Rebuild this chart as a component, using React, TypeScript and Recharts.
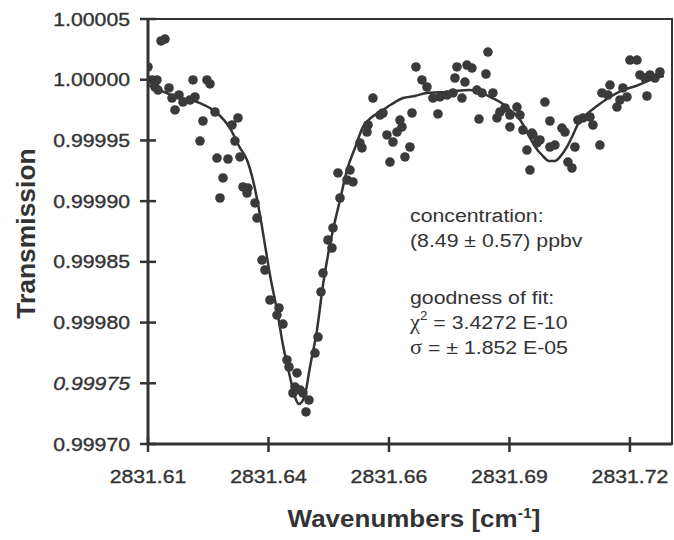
import {
  ComposedChart,
  Label,
  Line,
  ReferenceArea,
  Scatter,
  XAxis,
  YAxis,
} from 'recharts'

// measured transmission (points)
const wavenumber = [
  2831.61, 2831.61297, 2831.61388, 2831.61091, 2831.61205, 2831.6116, 2831.61228, 2831.61479,
  2831.61548, 2831.61707, 2831.61616, 2831.61799, 2831.61959, 2831.62073, 2831.62027, 2831.62346,
  2831.62415, 2831.62529, 2831.62255, 2831.62187, 2831.63054, 2831.62917, 2831.62985, 2831.62575,
  2831.62826, 2831.631, 2831.62712, 2831.62643, 2831.63168, 2831.63282, 2831.63259, 2831.63442,
  2831.63488, 2831.63602, 2831.6367, 2831.63784, 2831.6399, 2831.63944, 2831.64081, 2831.64172,
  2831.64218, 2831.644, 2831.64355, 2831.64469, 2831.64537, 2831.64309, 2831.64674, 2831.64606,
  2831.64811, 2831.6488, 2831.64948, 2831.64994, 2831.65108, 2831.65199, 2831.65222, 2831.65382,
  2831.65336, 2831.65542, 2831.6561, 2831.65678, 2831.65838, 2831.65884, 2831.65998, 2831.66021,
  2831.66135, 2831.66295, 2831.66363, 2831.66454, 2831.66591, 2831.66683, 2831.66751, 2831.66797,
  2831.66523, 2831.66865, 2831.66979, 2831.67025, 2831.67116, 2831.67253, 2831.67367, 2831.67504,
  2831.67664, 2831.67824, 2831.67961, 2831.67618, 2831.68006, 2831.68052, 2831.6828, 2831.68394,
  2831.68234, 2831.68166, 2831.68759, 2831.68714, 2831.68508, 2831.68622, 2831.68873, 2831.68554,
  2831.69033, 2831.69147, 2831.69261, 2831.69421, 2831.6949, 2831.68965, 2831.69261, 2831.69558,
  2831.69763, 2831.69649, 2831.69718, 2831.69878, 2831.69946, 2831.7006, 2831.70174, 2831.70448,
  2831.70517, 2831.70288, 2831.70174, 2831.70745, 2831.70585, 2831.70676, 2831.70813, 2831.70927,
  2831.71087, 2831.71156, 2831.71315, 2831.71361, 2831.71544, 2831.71498, 2831.7184, 2831.71932,
  2831.71772, 2831.71703, 2831.72, 2831.7216, 2831.72228, 2831.72342, 2831.72456, 2831.72571,
  2831.72685, 2831.72388, 2831.69786,
]
const transmission = [
  1.0000105, 1.0000319, 1.0000335, 0.9999998, 0.9999998, 0.999994, 0.9999915, 0.9999932,
  0.9999849, 0.9999874, 0.9999751, 0.9999816, 0.9999833, 0.9999858, 0.9999998, 0.9999998,
  0.9999965, 0.9999734, 0.999966, 0.9999495, 0.9999685, 0.9999627, 0.9999495, 0.9999355,
  0.9999347, 0.9999364, 0.9999191, 0.9999026, 0.9999117, 0.9999108, 0.9999067, 0.9998985,
  0.9998861, 0.9998515, 0.9998433, 0.9998186, 0.999812, 0.9998062, 0.9997988, 0.9997692,
  0.9997634, 0.9997585, 0.9997469, 0.9997445, 0.999742, 0.999742, 0.9997362, 0.9997264,
  0.9997749, 0.9997881, 0.9998252, 0.9998408, 0.999868, 0.9998614, 0.9998779, 0.9999026,
  0.9999232, 0.9999174, 0.9999256, 0.9999158, 0.9999479, 0.9999438, 0.9999569, 0.9999627,
  0.9999849, 0.9999709, 0.9999726, 0.9999545, 0.9999487, 0.9999569, 0.9999668, 0.9999611,
  0.9999322, 0.9999364, 0.9999446, 0.9999726, 1.0000105, 0.9999998, 0.999994, 0.9999849,
  0.9999858, 0.9999874, 0.9999891, 0.9999718, 1.0000014, 1.0000105, 1.0000121, 1.0000096,
  0.9999981, 0.9999849, 1.0000228, 1.0000047, 0.9999915, 0.9999891, 0.9999891, 0.9999676,
  0.9999734, 0.9999767, 0.9999709, 0.9999775, 0.9999709, 0.9999685, 0.9999611, 0.9999586,
  0.9999561, 0.9999421, 0.9999256, 0.9999479, 0.9999504, 0.9999816, 0.999966, 0.9999602,
  0.9999569, 0.9999462, 0.9999446, 0.9999446, 0.9999322, 0.9999273, 0.9999668, 0.9999685,
  0.9999693, 0.9999627, 0.9999462, 0.9999891, 0.9999956, 0.9999874, 0.9999932, 0.9999858,
  0.9999833, 0.9999775, 1.0000162, 1.0000162, 1.0000039, 1.0000014, 1.0000039, 1.0000014,
  1.0000064, 0.9999866, 0.9999545,
]

// fitted profile
const fitWavenumber = [
  2831.61, 2831.61274, 2831.61571, 2831.61844, 2831.62187, 2831.62575, 2831.62871, 2831.631,
  2831.63259, 2831.63396, 2831.63556, 2831.6367, 2831.63784, 2831.63944, 2831.64081, 2831.64241,
  2831.64355, 2831.64446, 2831.64537, 2831.64606, 2831.64697, 2831.64857, 2831.64994, 2831.65108,
  2831.65222, 2831.65382, 2831.65542, 2831.65724, 2831.65907, 2831.66112, 2831.66295, 2831.66568,
  2831.6682, 2831.67093, 2831.67367, 2831.67824, 2831.68349, 2831.68577, 2831.68805, 2831.69033,
  2831.69261, 2831.69421, 2831.69581, 2831.69718, 2831.69855, 2831.69992, 2831.70152, 2831.70288,
  2831.70403, 2831.70562, 2831.70699, 2831.70813, 2831.71019, 2831.71247, 2831.71544, 2831.7184,
  2831.72137, 2831.72456, 2831.72776,
]
const fitTransmission = [
  0.9999956, 0.9999915, 0.9999866, 0.9999841, 0.9999808, 0.9999726, 0.9999602, 0.9999438,
  0.9999339, 0.9999174, 0.9998886, 0.9998639, 0.9998392, 0.9998103, 0.9997815, 0.9997552,
  0.9997387, 0.9997329, 0.9997362, 0.9997445, 0.9997634, 0.9997939, 0.9998309, 0.9998557,
  0.9998762, 0.9999009, 0.9999256, 0.9999438, 0.9999611, 0.9999693, 0.9999734, 0.99998,
  0.9999849, 0.9999866, 0.9999891, 0.9999899, 0.9999915, 0.9999899, 0.9999858, 0.9999816,
  0.9999751, 0.9999701, 0.9999619, 0.999952, 0.9999438, 0.999938, 0.9999331, 0.9999331,
  0.9999364, 0.9999446, 0.9999545, 0.9999635, 0.9999718, 0.9999784, 0.9999858, 0.9999915,
  0.9999948, 0.9999998, 1.0000031,
]

const xTicks = [2831.61, 2831.6375, 2831.665, 2831.6925, 2831.72]
const xTickLabels = ['2831.61', '2831.64', '2831.66', '2831.69', '2831.72']
const yTicks = [0.9997, 0.99975, 0.9998, 0.99985, 0.9999, 0.99995, 1.0, 1.00005]

const concentration = '(8.49 ± 0.57) ppbv'
const chiSquared = '3.4272 E-10'
const sigma = '± 1.852 E-05'

const measured = wavenumber.map((x, i) => ({ x, y: transmission[i] }))
const fit = fitWavenumber.map((x, i) => ({ x, y: fitTransmission[i] }))

const INK = '#333333'
const FONT = '"Liberation Sans", Arial, sans-serif'
const GREEK = '"Liberation Serif", serif'

function XTick({ x, y, payload }: any) {
  const label = xTickLabels[xTicks.indexOf(payload.value)] ?? ''
  return (
    <g>
      <line x1={x} x2={x} y1={y - 7} y2={y + 8} stroke={INK} strokeWidth={2.5} />
      <text
        transform={`translate(${x},${y + 39}) scale(1.18,1)`}
        textAnchor="middle"
        fontSize={18}
        fontFamily={FONT}
        fill={INK}
        stroke={INK}
        strokeWidth={0.35}
      >
        {label}
      </text>
    </g>
  )
}

function YTick({ x, y, payload }: any) {
  const v = payload.value as number
  return (
    <g>
      <line x1={x - 8} x2={x + 8} y1={y} y2={y} stroke={INK} strokeWidth={2.5} />
      <text
        transform={`translate(${x - 18},${y + 6.5}) scale(1.18,1)`}
        textAnchor="end"
        fontSize={18}
        fontFamily={FONT}
        fontStyle={v === 0.99975 ? 'italic' : 'normal'}
        fill={INK}
        stroke={INK}
        strokeWidth={0.35}
      >
        {v.toFixed(5)}
      </text>
    </g>
  )
}

function Dot({ cx, cy }: any) {
  return <circle cx={cx} cy={cy} r={4.8} fill="#3a3a3a" />
}

function Notes({ viewBox }: any) {
  const x = viewBox.x + 262
  const y = viewBox.y
  const t = (dy: number) => `translate(${x},${y + dy}) scale(1.12,1)`
  const common = { fontSize: 19, fontFamily: FONT, fill: INK }
  return (
    <g>
      <text transform={t(203)} {...common}>concentration:</text>
      <text transform={t(228)} {...common}>{concentration}</text>
      <text transform={t(285)} {...common}>goodness of fit:</text>
      <text transform={t(310)} {...common}>
        <tspan fontFamily={GREEK} fontSize={20}>χ</tspan>
        <tspan dy={-9} fontSize={12}>2</tspan>
        <tspan dy={9}>{` = ${chiSquared}`}</tspan>
      </text>
      <text transform={t(335)} {...common}>
        <tspan fontFamily={GREEK} fontSize={20}>σ</tspan>
        <tspan>{`  = ${sigma}`}</tspan>
      </text>
    </g>
  )
}

function XTitle({ viewBox }: any) {
  const cx = viewBox.x + viewBox.width / 2 + 4
  return (
    <text
      transform={`translate(${cx},${viewBox.y + 83}) scale(1.13,1.03)`}
      textAnchor="middle"
      fontSize={23}
      fontWeight="bold"
      fontFamily={FONT}
      fill={INK}
    >
      Wavenumbers [cm
      <tspan dy={-9} fontSize={14}>-1</tspan>
      <tspan dy={9}>]</tspan>
    </text>
  )
}

function YTitle({ viewBox }: any) {
  const cy = viewBox.y + viewBox.height / 2 + 2
  return (
    <text
      transform={`translate(${viewBox.x + 35},${cy}) rotate(-90) scale(1.15,1.12)`}
      textAnchor="middle"
      fontSize={23}
      fontWeight="bold"
      fontFamily={FONT}
      fill={INK}
    >
      Transmission
    </text>
  )
}

export default function App() {
  return (
    <div style={{ position: 'absolute', left: 0, top: 0, width: 674, height: 540, background: '#fff' }}>
      <ComposedChart width={674} height={540} margin={{ top: 19, right: 2, bottom: 0, left: 0 }}>
        <XAxis
          type="number"
          dataKey="x"
          domain={[2831.61, 2831.7296]}
          allowDataOverflow
          ticks={xTicks}
          tick={<XTick />}
          tickLine={false}
          tickSize={0}
          tickMargin={0}
          height={96}
          axisLine={{ stroke: INK, strokeWidth: 3 }}
        >
          <Label content={<XTitle />} />
        </XAxis>
        <YAxis
          type="number"
          dataKey="y"
          domain={[0.9997, 1.00005]}
          allowDataOverflow
          ticks={yTicks}
          tick={<YTick />}
          tickLine={false}
          tickSize={0}
          tickMargin={0}
          width={148}
          axisLine={{ stroke: INK, strokeWidth: 3 }}
        >
          <Label content={<YTitle />} />
        </YAxis>
        <ReferenceArea
          x1={2831.61}
          x2={2831.7296}
          y1={0.9997}
          y2={1.00005}
          fill="none"
          stroke={INK}
          strokeWidth={2}
          label={<Notes />}
        />
        <Line
          data={fit}
          dataKey="y"
          type="monotone"
          stroke={INK}
          strokeWidth={2.5}
          dot={false}
          activeDot={false}
          isAnimationActive={false}
        />
        <Scatter data={measured} dataKey="y" shape={<Dot />} isAnimationActive={false} />
      </ComposedChart>
    </div>
  )
}
